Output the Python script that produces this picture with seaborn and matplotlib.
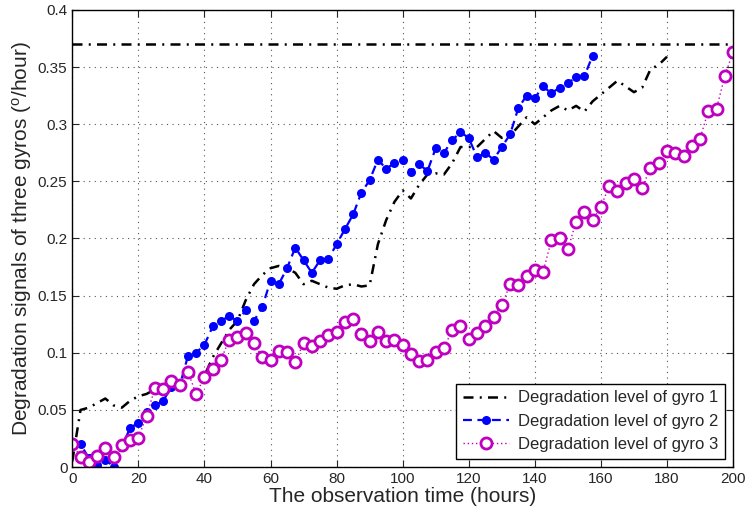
import numpy as np
import pandas as pd
import seaborn as sns
import matplotlib.pyplot as plt

# observation times (hours), one sample every 2.5 h
t_gyro1 = np.arange(0, 180.1, 2.5)
t_gyro2 = np.arange(0, 157.6, 2.5)
t_gyro3 = np.arange(0, 200.1, 2.5)

gyro1 = [0.005, 0.050, 0.052, 0.056, 0.060, 0.054, 0.052, 0.058, 0.062, 0.064,
         0.068, 0.068, 0.070, 0.074, 0.081, 0.079, 0.080, 0.096, 0.108, 0.120,
         0.128, 0.146, 0.160, 0.168, 0.174, 0.176, 0.174, 0.170, 0.160, 0.163,
         0.160, 0.157, 0.156, 0.159, 0.160, 0.158, 0.159, 0.195, 0.216, 0.232,
         0.242, 0.235, 0.247, 0.256, 0.257, 0.256, 0.266, 0.280, 0.280, 0.280,
         0.287, 0.294, 0.288, 0.290, 0.298, 0.306, 0.300, 0.306, 0.312, 0.316,
         0.312, 0.316, 0.311, 0.320, 0.326, 0.332, 0.338, 0.333, 0.328, 0.332,
         0.348, 0.352, 0.359]

gyro2 = [0.020, 0.020, 0.008, 0.0015, 0.0065, 0.0005, 0.018, 0.034, 0.039, 0.048,
         0.054, 0.058, 0.070, 0.071, 0.097, 0.100, 0.107, 0.123, 0.128, 0.132,
         0.128, 0.137, 0.128, 0.140, 0.163, 0.160, 0.174, 0.192, 0.181, 0.170,
         0.181, 0.182, 0.195, 0.208, 0.221, 0.240, 0.251, 0.269, 0.261, 0.266,
         0.269, 0.258, 0.265, 0.259, 0.279, 0.275, 0.286, 0.293, 0.288, 0.271,
         0.275, 0.269, 0.280, 0.291, 0.314, 0.325, 0.323, 0.333, 0.327, 0.332,
         0.336, 0.341, 0.342, 0.360]

gyro3 = [0.020, 0.009, 0.0044, 0.0097, 0.0164, 0.0088, 0.019, 0.0237, 0.0257, 0.0447,
         0.069, 0.0687, 0.0754, 0.072, 0.0836, 0.0637, 0.079, 0.0862, 0.0937, 0.1116,
         0.1142, 0.1174, 0.109, 0.0961, 0.0935, 0.1016, 0.1008, 0.0917, 0.1086, 0.1057,
         0.1107, 0.116, 0.118, 0.127, 0.1297, 0.1168, 0.1107, 0.1183, 0.110, 0.1115,
         0.107, 0.0993, 0.0932, 0.094, 0.1008, 0.1043, 0.120, 0.1232, 0.112, 0.1174,
         0.1232, 0.1314, 0.1416, 0.1598, 0.159, 0.167, 0.1723, 0.171, 0.1983, 0.2006,
         0.1907, 0.2147, 0.2231, 0.2161, 0.2278, 0.2459, 0.2415, 0.2483, 0.2518, 0.2444,
         0.262, 0.2664, 0.2769, 0.2748, 0.2722, 0.281, 0.2874, 0.3116, 0.3137, 0.3423,
         0.3633]

threshold = 0.37

xticks = [0, 20, 40, 60, 80, 100, 120, 140, 160, 180, 200]
yticks = [0, 0.05, 0.1, 0.15, 0.2, 0.25, 0.3, 0.35, 0.4]
ytick_labels = ["0", "0.05", "0.1", "0.15", "0.2", "0.25", "0.3", "0.35", "0.4"]

sns.set_style("ticks")
plt.rcParams["font.family"] = ["Liberation Sans", "DejaVu Sans"]
plt.rcParams["mathtext.fontset"] = "custom"
plt.rcParams["mathtext.rm"] = "Liberation Sans"
plt.rcParams["mathtext.it"] = "Liberation Sans"

fig, ax = plt.subplots(figsize=(7.45, 5.19), dpi=100)
fig.subplots_adjust(left=0.097, right=0.984, top=0.981, bottom=0.1)

# failure threshold
ax.axhline(threshold, color="black", linewidth=1.8, linestyle=(0, (4, 2.5, 0.8, 2.5)))

sns.lineplot(x=t_gyro1, y=gyro1, ax=ax, color="black", linewidth=1.8,
             linestyle=(0, (4, 2.5, 0.8, 2.5)), label="Degradation level of gyro 1")
sns.lineplot(x=t_gyro2, y=gyro2, ax=ax, color="#0000ff", linewidth=1.6,
             linestyle=(0, (4, 2.5)), marker="o", markersize=6.5, markeredgewidth=0,
             label="Degradation level of gyro 2")
sns.lineplot(x=t_gyro3, y=gyro3, ax=ax, color="#c000c0", linewidth=1.0,
             linestyle=(0, (1, 2)), marker="o", markersize=8, markerfacecolor="white",
             markeredgecolor="#c000c0", markeredgewidth=2,
             label="Degradation level of gyro 3")

ax.set_xlim(0, 200)
ax.set_ylim(0, 0.4)
ax.set_xticks(xticks)
ax.set_yticks(yticks)
ax.set_yticklabels(ytick_labels)
ax.tick_params(direction="in", top=True, right=True, labelsize=11, length=5, width=0.8)
ax.grid(True, color="#555555", linestyle=(0, (1, 4)), linewidth=0.8)
for s in ax.spines.values():
    s.set_linewidth(1.0)
    s.set_color("black")

ax.set_xlabel("The observation time (hours)", fontsize=15, labelpad=1)
ax.set_ylabel(r"Degradation signals of three gyros ($^{\mathrm{o}}$/hour)", fontsize=15, labelpad=3)

leg = ax.legend(loc="lower right", fontsize=12, frameon=True, fancybox=False,
                handlelength=2.8, borderaxespad=0.5, borderpad=0.4, labelspacing=0.5,
                handletextpad=0.5)
leg.get_frame().set_edgecolor("black")
leg.get_frame().set_linewidth(1.0)
leg.get_frame().set_alpha(1)

fig.savefig("out.png", dpi=100)
